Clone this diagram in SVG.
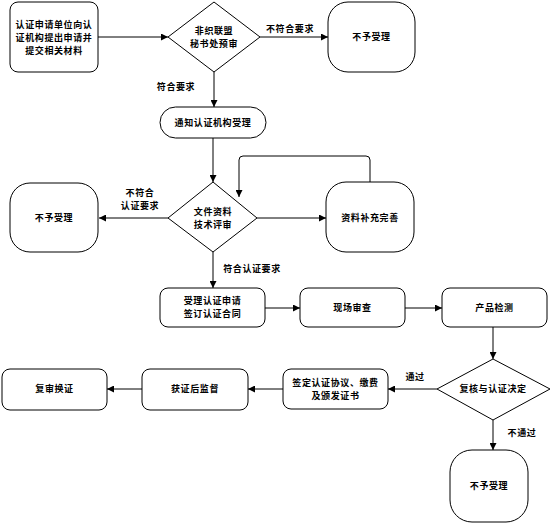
<svg xmlns="http://www.w3.org/2000/svg" width="553" height="524" viewBox="0 0 553 524">
<defs>
<marker id="ah" viewBox="0 0 10 10" refX="10" refY="5" markerWidth="7" markerHeight="7" markerUnits="userSpaceOnUse" orient="auto">
<path d="M0,0 L10,5 L0,10 z" fill="#000"/>
</marker>
<style>
.s{fill:#fff;stroke:#000;stroke-width:1}
.c{fill:none;stroke:#000;stroke-width:1;marker-end:url(#ah)}
text{font-family:"Noto Sans CJK SC","Noto Sans",sans-serif;font-size:9px;font-weight:bold;letter-spacing:0.6px;fill:#000}
.m{text-anchor:middle}
</style>
</defs>
<rect width="553" height="524" fill="#fff"/>
<g id="connectors">
<path class="c" d="M98,37 H168"/>
<path class="c" d="M260,37 H328"/>
<path class="c" d="M214,72 V107"/>
<path class="c" d="M213,138 V182"/>
<path class="c" d="M168,218 H99"/>
<path class="c" d="M257,218 H326"/>
<path class="c" d="M370,182 V160 Q370,156 366,156 H243 Q239,156 239,160 V197"/>
<path class="c" d="M213,252 V288"/>
<path class="c" d="M265,308 H300"/>
<path class="c" d="M405,308 H442"/>
<path class="c" d="M493,327 V359"/>
<path class="c" d="M437,389 H388"/>
<path class="c" d="M493,420 V450"/>
<path class="c" d="M283,389 H248"/>
<path class="c" d="M142,389 H107"/>
<text x="290" y="32" class="m">不符合要求</text>
<text x="176" y="90" class="m">符合要求</text>
<text x="140" y="196" class="m">不符合</text>
<text x="140" y="209" class="m">认证要求</text>
<text x="252" y="272" class="m">符合认证要求</text>
<text x="415" y="380" class="m">通过</text>
<text x="522" y="436" class="m">不通过</text>
</g>
<g id="n1"><rect class="s" x="10" y="2" width="88" height="70" rx="8"/>
<text x="54" y="28" class="m">认证申请单位向认</text>
<text x="54" y="41" class="m">证机构提出申请并</text>
<text x="54" y="54" class="m">提交相关材料</text></g>
<g id="n2"><path class="s" d="M214,2 L260,37 L214,72 L168,37 z"/>
<text x="214" y="34" class="m">非织联盟</text>
<text x="214" y="47" class="m">秘书处预审</text></g>
<g id="n3"><rect class="s" x="328" y="2" width="87" height="70" rx="20"/>
<text x="371.5" y="40" class="m">不予受理</text></g>
<g id="n4"><rect class="s" x="160" y="107" width="106" height="31" rx="15.5"/>
<text x="213" y="126" class="m">通知认证机构受理</text></g>
<g id="n5"><path class="s" d="M213,182 L257,218 L213,252 L168,218 z"/>
<text x="213" y="215" class="m">文件资料</text>
<text x="213" y="228" class="m">技术评审</text></g>
<g id="n6"><rect class="s" x="10" y="183" width="88" height="69" rx="20"/>
<text x="54" y="221" class="m">不予受理</text></g>
<g id="n7"><rect class="s" x="326" y="182" width="88" height="70" rx="20"/>
<text x="370" y="221" class="m">资料补充完善</text></g>
<g id="n8"><rect class="s" x="160" y="288" width="105" height="39" rx="8"/>
<text x="212.5" y="304" class="m">受理认证申请</text>
<text x="212.5" y="317" class="m">签订认证合同</text></g>
<g id="n9"><rect class="s" x="300" y="288" width="105" height="39" rx="8"/>
<text x="352.5" y="311" class="m">现场审查</text></g>
<g id="n10"><rect class="s" x="442" y="288" width="105" height="39" rx="8"/>
<text x="494.5" y="311" class="m">产品检测</text></g>
<g id="n11"><path class="s" d="M493,359 L550,389 L493,420 L437,389 z"/>
<text x="493" y="392" class="m">复核与认证决定</text></g>
<g id="n12"><rect class="s" x="283" y="369" width="105" height="40" rx="8"/>
<text x="335.5" y="386" class="m">签定认证协议、缴费</text>
<text x="335.5" y="399" class="m">及颁发证书</text></g>
<g id="n13"><rect class="s" x="450" y="450" width="78" height="72" rx="22"/>
<text x="489" y="489" class="m">不予受理</text></g>
<g id="n14"><rect class="s" x="142" y="369" width="106" height="41" rx="8"/>
<text x="195" y="392" class="m">获证后监督</text></g>
<g id="n15"><rect class="s" x="2" y="369" width="105" height="41" rx="8"/>
<text x="54.5" y="392" class="m">复审换证</text></g>
</svg>
